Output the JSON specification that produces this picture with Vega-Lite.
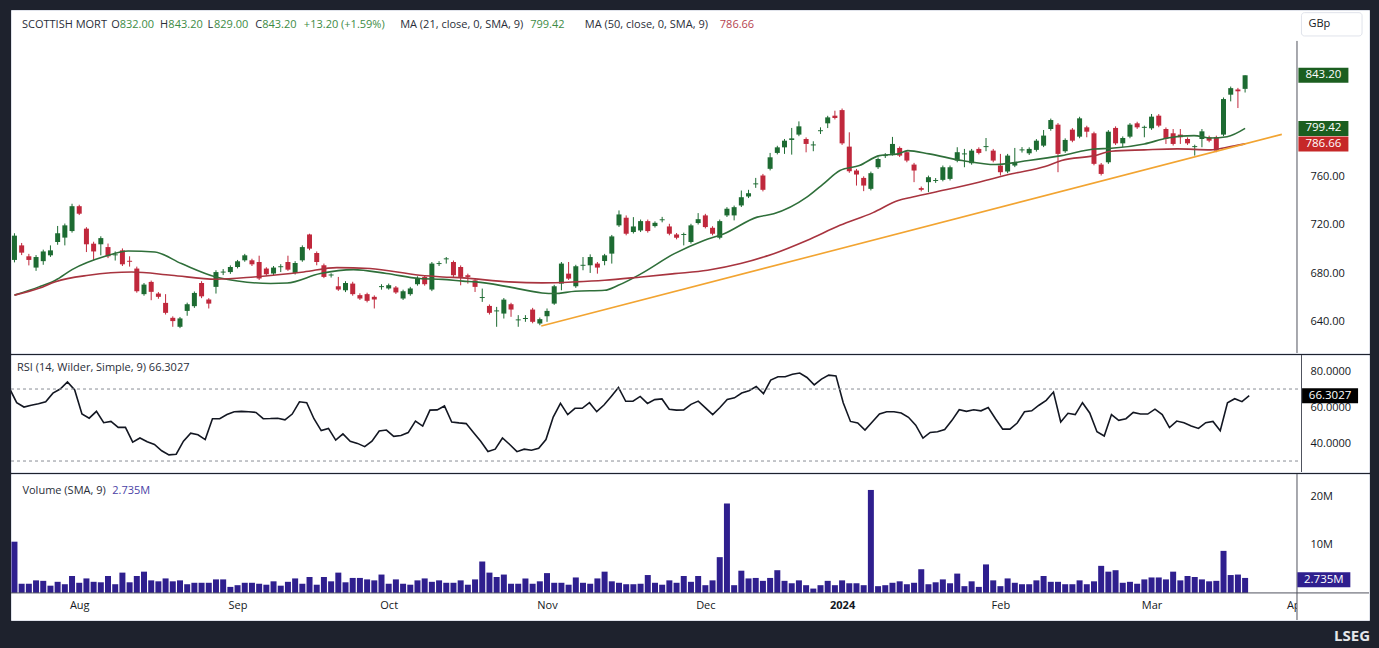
{
  "$schema": "https://vega.github.io/schema/vega-lite/v6.json",
  "background": "#1e222d",
  "padding": {"left": 10, "top": 9, "right": 11, "bottom": 6},
  "spacing": 0,
  "config": {
    "view": {"fill": "#ffffff", "stroke": "#e0e3eb", "strokeWidth": 1},
    "font": "Open Sans"
  },
  "title": {"text": "LSEG", "orient": "bottom", "anchor": "end", "color": "#e6e7ea", "fontSize": 15, "fontWeight": "bold", "font": "Open Sans", "offset": 8},
  "datasets": {
    "candles": [
      {"s":-9,"o":691,"h":713,"l":689,"c":711},{"s":-8,"o":703,"h":705,"l":695,"c":697},{"s":-7,"o":694,"h":696,"l":686.5,"c":691},{"s":-6,"o":684.7,"h":695,"l":682,"c":693.4},{"s":-5,"o":690,"h":699.5,"l":687,"c":698},{"s":-4,"o":694.8,"h":703,"l":693.5,"c":698.9},{"s":-3,"o":705.8,"h":719,"l":703.5,"c":713},{"s":-2,"o":709.4,"h":721,"l":703,"c":719.5},{"s":-1,"o":714.8,"h":737.3,"l":713.5,"c":735.3},{"s":0,"o":735.3,"h":736.5,"l":728,"c":729.1},
      {"s":1,"o":716.8,"h":718,"l":697.5,"c":703.9},{"s":2,"o":704.4,"h":706,"l":690.7,"c":698},{"s":3,"o":703.9,"h":710.5,"l":694.8,"c":709},{"s":4,"o":701.6,"h":704.5,"l":692.5,"c":694},{"s":5,"o":694.8,"h":698,"l":690.5,"c":695.6},{"s":6,"o":698.9,"h":700.5,"l":686,"c":687.4},{"s":7,"o":690.3,"h":694,"l":685.5,"c":689.5},{"s":8,"o":683.9,"h":685.5,"l":664,"c":665.2},{"s":9,"o":662.8,"h":672,"l":661.5,"c":670.7},{"s":10,"o":672.9,"h":674,"l":657.8,"c":664.7},
      {"s":11,"o":663.3,"h":664.5,"l":659,"c":660.6},{"s":12,"o":655.6,"h":662.8,"l":646,"c":647.4},{"s":13,"o":643.3,"h":644.5,"l":635.9,"c":640.6},{"s":14,"o":635.9,"h":644,"l":634.8,"c":642.8},{"s":15,"o":649,"h":655.8,"l":645,"c":654.5},{"s":16,"o":652.9,"h":665,"l":651.5,"c":663.8},{"s":17,"o":672,"h":673.5,"l":659.5,"c":661},{"s":18,"o":658.4,"h":659.5,"l":651,"c":655},{"s":19,"o":668.8,"h":682.5,"l":663.3,"c":681},{"s":20,"o":680.6,"h":683.5,"l":678.5,"c":681.4},
      {"s":21,"o":681,"h":686.5,"l":679.5,"c":685.2},{"s":22,"o":685.2,"h":691,"l":684,"c":689.9},{"s":23,"o":690.7,"h":696,"l":689.5,"c":694.8},{"s":24,"o":690.7,"h":692,"l":686,"c":687.4},{"s":25,"o":689.3,"h":694.5,"l":674.5,"c":675.7},{"s":26,"o":683.9,"h":685,"l":678,"c":679.2},{"s":27,"o":679.8,"h":686,"l":678.5,"c":684.7},{"s":28,"o":685,"h":687.5,"l":681,"c":685.8},{"s":29,"o":689.3,"h":694.5,"l":682,"c":683},{"s":30,"o":680.3,"h":690,"l":679,"c":688.5},
      {"s":31,"o":690.7,"h":703,"l":689.5,"c":701.6},{"s":32,"o":712,"h":712.6,"l":699,"c":700.3},{"s":33,"o":696.7,"h":698,"l":686.6,"c":689.3},{"s":34,"o":686.6,"h":688,"l":676,"c":677},{"s":35,"o":678.2,"h":680,"l":676.5,"c":679},{"s":36,"o":669.3,"h":677,"l":665.5,"c":666.6},{"s":37,"o":666,"h":673.5,"l":664.5,"c":672},{"s":38,"o":671.5,"h":673,"l":661.5,"c":662.8},{"s":39,"o":662,"h":663.5,"l":658,"c":659.2},{"s":40,"o":662.8,"h":664,"l":656,"c":657.3},
      {"s":41,"o":660.6,"h":661.8,"l":651,"c":658.4},{"s":42,"o":668.6,"h":671,"l":666.5,"c":669.4},{"s":43,"o":667.5,"h":671.5,"l":666.5,"c":670.2},{"s":44,"o":668.3,"h":669.5,"l":663,"c":664.2},{"s":45,"o":659.2,"h":666.5,"l":658,"c":665.2},{"s":46,"o":662.8,"h":668.8,"l":661.5,"c":667.5},{"s":47,"o":671,"h":677.5,"l":669.8,"c":676.2},{"s":48,"o":677,"h":678.3,"l":669.8,"c":671},{"s":49,"o":666.6,"h":689.3,"l":665.3,"c":688},{"s":50,"o":687.6,"h":690,"l":686,"c":688.4},
      {"s":51,"o":691.5,"h":693.4,"l":688,"c":692.3},{"s":52,"o":689.3,"h":690.5,"l":677,"c":678.4},{"s":53,"o":685.2,"h":686.5,"l":670.1,"c":677},{"s":54,"o":678.4,"h":679.7,"l":671.5,"c":677},{"s":55,"o":674.2,"h":675.5,"l":664.6,"c":668.8},{"s":56,"o":659.6,"h":667.4,"l":656.4,"c":660.4},{"s":57,"o":653.1,"h":654.3,"l":646,"c":647.4},{"s":58,"o":648.6,"h":652.3,"l":635.9,"c":649.4},{"s":59,"o":646.8,"h":659.6,"l":642.7,"c":658.3},{"s":60,"o":654.5,"h":655.7,"l":644.1,"c":650.1},
      {"s":61,"o":641.2,"h":645.5,"l":635.9,"c":642},{"s":62,"o":642.3,"h":645.5,"l":640,"c":643.1},{"s":63,"o":650.1,"h":651.5,"l":638.8,"c":640},{"s":64,"o":638.6,"h":643.5,"l":637.2,"c":642.2},{"s":65,"o":644.6,"h":651,"l":640,"c":649},{"s":66,"o":655,"h":670.5,"l":654,"c":669.3},{"s":67,"o":671.5,"h":689.3,"l":666,"c":688},{"s":68,"o":679.7,"h":689.3,"l":674.5,"c":675.6},{"s":69,"o":669.3,"h":687,"l":668,"c":685.8},{"s":70,"o":686.2,"h":693.4,"l":682.5,"c":687},
      {"s":71,"o":686.6,"h":695.6,"l":680.3,"c":693.4},{"s":72,"o":688,"h":689.3,"l":679.7,"c":684.7},{"s":73,"o":690.1,"h":696,"l":686.6,"c":694.8},{"s":74,"o":696.2,"h":711.6,"l":688,"c":710.4},{"s":75,"o":719.5,"h":731.8,"l":718.2,"c":728.5},{"s":76,"o":725.8,"h":727.7,"l":711.3,"c":712.6},{"s":77,"o":714,"h":726.3,"l":712.8,"c":718.6},{"s":78,"o":715.3,"h":724.3,"l":714,"c":723},{"s":79,"o":723,"h":724.3,"l":713.5,"c":714.8},{"s":80,"o":718.9,"h":722.8,"l":717.7,"c":721.6},
      {"s":81,"o":723.7,"h":726.5,"l":722,"c":724.5},{"s":82,"o":718.6,"h":720.8,"l":711.3,"c":712.6},{"s":83,"o":712,"h":713.2,"l":708,"c":709.3},{"s":84,"o":711.6,"h":713.5,"l":703,"c":712.4},{"s":85,"o":705.8,"h":720.8,"l":704.5,"c":719.5},{"s":86,"o":721.4,"h":729.6,"l":720.2,"c":724.6},{"s":87,"o":727.7,"h":729,"l":717,"c":718.1},{"s":88,"o":717.5,"h":718.8,"l":711.3,"c":712.6},{"s":89,"o":709.3,"h":724.3,"l":708,"c":723},{"s":90,"o":727.7,"h":734.5,"l":726.4,"c":733.2},
      {"s":91,"o":727.7,"h":735.8,"l":723.6,"c":734.5},{"s":92,"o":735.9,"h":748.2,"l":734.6,"c":742.7},{"s":93,"o":743.3,"h":748.8,"l":742,"c":746},{"s":94,"o":753.3,"h":758.6,"l":750.4,"c":754.1},{"s":95,"o":760.6,"h":761.9,"l":747.5,"c":748.8},{"s":96,"o":766.1,"h":779.2,"l":764.8,"c":775.6},{"s":97,"o":779.2,"h":785.1,"l":778,"c":783.8},{"s":98,"o":783.8,"h":790.7,"l":778.4,"c":789.3},{"s":99,"o":789.9,"h":799.8,"l":777.8,"c":791.2},{"s":100,"o":794.3,"h":805.2,"l":793,"c":801.1},
      {"s":101,"o":790.7,"h":792,"l":779.7,"c":786.6},{"s":102,"o":785.4,"h":788.8,"l":780.6,"c":786.2},{"s":103,"o":797.1,"h":800.3,"l":794.8,"c":797.9},{"s":104,"o":803.6,"h":809.8,"l":799.7,"c":808.5},{"s":105,"o":809.9,"h":814,"l":806.8,"c":808},{"s":106,"o":814.5,"h":815.8,"l":785.8,"c":787.1},{"s":107,"o":784.4,"h":796.2,"l":762.8,"c":764.1},{"s":108,"o":764.7,"h":766,"l":752.3,"c":761.4},{"s":109,"o":758.6,"h":759.9,"l":747.7,"c":752.3},{"s":110,"o":749.6,"h":763.8,"l":748.3,"c":762.5},
      {"s":111,"o":767.4,"h":775.5,"l":766,"c":774.2},{"s":112,"o":776.6,"h":779,"l":775,"c":777.4},{"s":113,"o":778.4,"h":792.4,"l":777,"c":786.6},{"s":114,"o":783.3,"h":784.5,"l":775.8,"c":777},{"s":115,"o":779.8,"h":781,"l":771.5,"c":772.9},{"s":116,"o":769.6,"h":771,"l":755.1,"c":764.7},{"s":117,"o":750.2,"h":751.5,"l":747.5,"c":748.8},{"s":118,"o":755.1,"h":760.5,"l":746.9,"c":759.2},{"s":119,"o":756.1,"h":758.5,"l":754.5,"c":756.9},{"s":120,"o":757,"h":768.8,"l":755.8,"c":767.4},
      {"s":121,"o":757.8,"h":768.8,"l":756.5,"c":767.4},{"s":122,"o":772.9,"h":783.9,"l":771.5,"c":779.8},{"s":123,"o":778,"h":782.5,"l":767.4,"c":778.8},{"s":124,"o":770.7,"h":782.5,"l":769.5,"c":781.1},{"s":125,"o":782.5,"h":783.8,"l":778,"c":779.2},{"s":126,"o":784,"h":791.5,"l":780.6,"c":784.8},{"s":127,"o":781.1,"h":782.5,"l":771.5,"c":772.9},{"s":128,"o":768.8,"h":778.4,"l":760.6,"c":763.3},{"s":129,"o":763.9,"h":778.4,"l":762.5,"c":777},{"s":130,"o":768.8,"h":783.3,"l":767.5,"c":771.5},
      {"s":131,"o":781.3,"h":784,"l":779.5,"c":782.1},{"s":132,"o":778.9,"h":783.8,"l":777.5,"c":782.5},{"s":133,"o":781.7,"h":790.6,"l":780.3,"c":789.3},{"s":134,"o":785.2,"h":798.1,"l":784,"c":793.5},{"s":135,"o":798.9,"h":807.5,"l":797.5,"c":806.3},{"s":136,"o":802.5,"h":803.8,"l":763.3,"c":778.4},{"s":137,"o":780.6,"h":791.2,"l":779.3,"c":789.9},{"s":138,"o":798.4,"h":799.7,"l":788,"c":789.3},{"s":139,"o":792.6,"h":809,"l":791.3,"c":807.7},{"s":140,"o":800.3,"h":801.6,"l":792.1,"c":796.7},
      {"s":141,"o":795.4,"h":796.7,"l":769,"c":770.2},{"s":142,"o":769.6,"h":770.9,"l":760.6,"c":761.9},{"s":143,"o":771.5,"h":798,"l":770.2,"c":796.7},{"s":144,"o":799.8,"h":801.1,"l":785.8,"c":787.1},{"s":145,"o":787.1,"h":792.8,"l":783.9,"c":791.5},{"s":146,"o":792.6,"h":803.8,"l":791.3,"c":802.5},{"s":147,"o":803.6,"h":804.9,"l":799,"c":800.3},{"s":148,"o":799.9,"h":801.7,"l":792.1,"c":800.7},{"s":149,"o":799.5,"h":811.3,"l":798.2,"c":809.1},{"s":150,"o":809.9,"h":811.2,"l":800.4,"c":801.7},
      {"s":151,"o":798.9,"h":800.2,"l":786.6,"c":790.7},{"s":152,"o":795.4,"h":798.9,"l":785.3,"c":786.6},{"s":153,"o":794.3,"h":798.9,"l":786.6,"c":792.1},{"s":154,"o":790.7,"h":792,"l":785.8,"c":787.1},{"s":155,"o":784,"h":786,"l":777,"c":784.8},{"s":156,"o":790.7,"h":798.9,"l":783.9,"c":797},{"s":157,"o":792.1,"h":793.4,"l":788,"c":789.3},{"s":158,"o":792.1,"h":793.4,"l":779.8,"c":781.1},{"s":159,"o":794.3,"h":824.9,"l":793,"c":823.6},{"s":160,"o":827.2,"h":833.9,"l":821.7,"c":832.6},
      {"s":161,"o":831.5,"h":832.8,"l":816.2,"c":830},{"s":162,"o":832,"h":843.2,"l":829,"c":843.2}
    ],
    "ma": [
      {"s":-9,"v":662,"k":"MA 21"},{"s":-5.6,"v":668.8,"k":"MA 21"},{"s":-3.3,"v":674.3,"k":"MA 21"},{"s":-1,"v":683,"k":"MA 21"},{"s":3.6,"v":694,"k":"MA 21"},{"s":6.8,"v":698.4,"k":"MA 21"},{"s":10.5,"v":697.5,"k":"MA 21"},{"s":14.2,"v":688,"k":"MA 21"},{"s":19,"v":677,"k":"MA 21"},{"s":22,"v":673.7,"k":"MA 21"},{"s":26.6,"v":671.6,"k":"MA 21"},{"s":28.9,"v":672,"k":"MA 21"},{"s":33.5,"v":679.8,"k":"MA 21"},{"s":38.1,"v":683,"k":"MA 21"},{"s":42.7,"v":679.8,"k":"MA 21"},{"s":47.3,"v":675.7,"k":"MA 21"},{"s":50.5,"v":675,"k":"MA 21"},{"s":53.3,"v":673.5,"k":"MA 21"},{"s":55.1,"v":672.9,"k":"MA 21"},{"s":59.7,"v":668.8,"k":"MA 21"},{"s":64.3,"v":663.8,"k":"MA 21"},{"s":66,"v":663.3,"k":"MA 21"},{"s":68.9,"v":665.2,"k":"MA 21"},{"s":73,"v":666,"k":"MA 21"},{"s":74.9,"v":670.1,"k":"MA 21"},{"s":78.1,"v":679.7,"k":"MA 21"},{"s":82.7,"v":696.2,"k":"MA 21"},{"s":86.8,"v":707.1,"k":"MA 21"},{"s":89.6,"v":712.6,"k":"MA 21"},{"s":94.2,"v":726.3,"k":"MA 21"},{"s":96.5,"v":729,"k":"MA 21"},{"s":101.1,"v":742.7,"k":"MA 21"},{"s":103.4,"v":753.7,"k":"MA 21"},{"s":105.7,"v":764.7,"k":"MA 21"},{"s":108.4,"v":768.8,"k":"MA 21"},{"s":111.2,"v":777,"k":"MA 21"},{"s":113.8,"v":778.4,"k":"MA 21"},{"s":115.1,"v":781.1,"k":"MA 21"},{"s":118.1,"v":778.4,"k":"MA 21"},{"s":122.7,"v":772.9,"k":"MA 21"},{"s":127.3,"v":769.6,"k":"MA 21"},{"s":131.9,"v":772.9,"k":"MA 21"},{"s":136.5,"v":777,"k":"MA 21"},{"s":141.1,"v":782.5,"k":"MA 21"},{"s":143.4,"v":783,"k":"MA 21"},{"s":148,"v":786.6,"k":"MA 21"},{"s":151.2,"v":791.5,"k":"MA 21"},{"s":154.9,"v":793.5,"k":"MA 21"},{"s":157.2,"v":791.5,"k":"MA 21"},{"s":159.5,"v":792.6,"k":"MA 21"},{"s":162,"v":799.42,"k":"MA 21"},
      {"s":-9,"v":662,"k":"MA 50"},{"s":-5.6,"v":667.6,"k":"MA 50"},{"s":-3.3,"v":673.1,"k":"MA 50"},{"s":1.3,"v":678.4,"k":"MA 50"},{"s":7.3,"v":681.1,"k":"MA 50"},{"s":12.8,"v":678.4,"k":"MA 50"},{"s":19,"v":675.1,"k":"MA 50"},{"s":24.3,"v":677,"k":"MA 50"},{"s":31.2,"v":681.1,"k":"MA 50"},{"s":35.8,"v":684.7,"k":"MA 50"},{"s":40.4,"v":683.9,"k":"MA 50"},{"s":47.3,"v":678.4,"k":"MA 50"},{"s":50.5,"v":677,"k":"MA 50"},{"s":53.3,"v":676.2,"k":"MA 50"},{"s":59.7,"v":672.9,"k":"MA 50"},{"s":64.3,"v":672.1,"k":"MA 50"},{"s":68.9,"v":672.9,"k":"MA 50"},{"s":73,"v":674.2,"k":"MA 50"},{"s":78.1,"v":677,"k":"MA 50"},{"s":82.7,"v":679.7,"k":"MA 50"},{"s":87.3,"v":682.5,"k":"MA 50"},{"s":91.9,"v":688,"k":"MA 50"},{"s":96.5,"v":696.2,"k":"MA 50"},{"s":101.1,"v":707.1,"k":"MA 50"},{"s":105.7,"v":719.5,"k":"MA 50"},{"s":110.3,"v":730,"k":"MA 50"},{"s":113.8,"v":740,"k":"MA 50"},{"s":115.8,"v":742.8,"k":"MA 50"},{"s":120.4,"v":748.8,"k":"MA 50"},{"s":125,"v":755.1,"k":"MA 50"},{"s":129.6,"v":762,"k":"MA 50"},{"s":134.2,"v":768,"k":"MA 50"},{"s":136.5,"v":772.9,"k":"MA 50"},{"s":141.1,"v":777,"k":"MA 50"},{"s":143.4,"v":780.6,"k":"MA 50"},{"s":148,"v":781.7,"k":"MA 50"},{"s":152.6,"v":782.5,"k":"MA 50"},{"s":157.2,"v":781.7,"k":"MA 50"},{"s":159.5,"v":783.9,"k":"MA 50"},{"s":162,"v":786.66,"k":"MA 50"}
    ],
    "trend": [{"s":64.2,"p":636.5},{"s":167.1,"p":794.5}],
    "rsi": [
      {"s":-9,"r":70.4},{"s":-8,"r":62.4},{"s":-7,"r":60},{"s":-6,"r":61},{"s":-5,"r":61.8},{"s":-4,"r":62.9},{"s":-3,"r":67.7},{"s":-2,"r":70},{"s":-1,"r":73.9},{"s":0,"r":69.5},{"s":1,"r":56.1},{"s":2,"r":53.8},{"s":3,"r":57.6},{"s":4,"r":51.3},{"s":5,"r":52},{"s":6,"r":48.7},{"s":7,"r":48.7},{"s":8,"r":40.5},{"s":9,"r":42.8},{"s":10,"r":40.7},
      {"s":11,"r":39.2},{"s":12,"r":35.7},{"s":13,"r":33.4},{"s":14,"r":33.8},{"s":15,"r":41},{"s":16,"r":45.5},{"s":17,"r":44.6},{"s":18,"r":41.9},{"s":19,"r":53.5},{"s":20,"r":53.5},{"s":21,"r":55.8},{"s":22,"r":57.4},{"s":23,"r":57.6},{"s":24,"r":57.4},{"s":25,"r":57},{"s":26,"r":53.5},{"s":27,"r":53.6},{"s":28,"r":53.8},{"s":29,"r":52.9},{"s":30,"r":56.1},
      {"s":31,"r":62.9},{"s":32,"r":62.4},{"s":33,"r":53.5},{"s":34,"r":46.9},{"s":35,"r":48.1},{"s":36,"r":41.6},{"s":37,"r":45.1},{"s":38,"r":41},{"s":39,"r":39.8},{"s":40,"r":38},{"s":41,"r":41},{"s":42,"r":46.7},{"s":43,"r":47.2},{"s":44,"r":43.7},{"s":45,"r":44.2},{"s":46,"r":45.8},{"s":47,"r":52.2},{"s":48,"r":49.4},{"s":49,"r":58.3},{"s":50,"r":58.4},
      {"s":51,"r":60.6},{"s":52,"r":51.7},{"s":53,"r":51.2},{"s":54,"r":50.8},{"s":55,"r":45.8},{"s":56,"r":41},{"s":57,"r":35.3},{"s":58,"r":36.6},{"s":59,"r":42.8},{"s":60,"r":39.2},{"s":61,"r":35.2},{"s":62,"r":36.6},{"s":63,"r":36},{"s":64,"r":37.1},{"s":65,"r":41.9},{"s":66,"r":54.4},{"s":67,"r":62},{"s":68,"r":55.8},{"s":69,"r":59.3},{"s":70,"r":59.3},
      {"s":71,"r":62.4},{"s":72,"r":57.4},{"s":73,"r":61.1},{"s":74,"r":65.9},{"s":75,"r":70.9},{"s":76,"r":63.2},{"s":77,"r":63.2},{"s":78,"r":65.9},{"s":79,"r":62},{"s":80,"r":64.1},{"s":81,"r":64.5},{"s":82,"r":58.8},{"s":83,"r":58.3},{"s":84,"r":58.4},{"s":85,"r":61.5},{"s":86,"r":63.3},{"s":87,"r":59.5},{"s":88,"r":55.8},{"s":89,"r":59.7},{"s":90,"r":64.2},
      {"s":91,"r":65.1},{"s":92,"r":67.8},{"s":93,"r":69.1},{"s":94,"r":71.4},{"s":95,"r":67.4},{"s":96,"r":75},{"s":97,"r":76.8},{"s":98,"r":76.8},{"s":99,"r":78.2},{"s":100,"r":78.9},{"s":101,"r":76.4},{"s":102,"r":72.3},{"s":103,"r":75.5},{"s":104,"r":77.7},{"s":105,"r":77.3},{"s":106,"r":62.4},{"s":107,"r":52},{"s":108,"r":51.1},{"s":109,"r":47.2},{"s":110,"r":51.7},
      {"s":111,"r":56.1},{"s":112,"r":57.4},{"s":113,"r":57.4},{"s":114,"r":56.7},{"s":115,"r":54.3},{"s":116,"r":49.9},{"s":117,"r":42.7},{"s":118,"r":45.9},{"s":119,"r":46.3},{"s":120,"r":47.5},{"s":121,"r":52.6},{"s":122,"r":58.5},{"s":123,"r":57.6},{"s":124,"r":58.5},{"s":125,"r":57.9},{"s":126,"r":59.7},{"s":127,"r":53.5},{"s":128,"r":47.7},{"s":129,"r":47.7},{"s":130,"r":51.1},
      {"s":131,"r":57.4},{"s":132,"r":57.9},{"s":133,"r":61},{"s":134,"r":63.7},{"s":135,"r":68.3},{"s":136,"r":51.7},{"s":137,"r":56.5},{"s":138,"r":55.8},{"s":139,"r":62.4},{"s":140,"r":56.7},{"s":141,"r":46.3},{"s":142,"r":43.9},{"s":143,"r":55.8},{"s":144,"r":52.6},{"s":145,"r":53.5},{"s":146,"r":57},{"s":147,"r":56.1},{"s":148,"r":56.1},{"s":149,"r":58.8},{"s":150,"r":55.8},
      {"s":151,"r":48.6},{"s":152,"r":52.2},{"s":153,"r":51.3},{"s":154,"r":49.5},{"s":155,"r":48.1},{"s":156,"r":51.3},{"s":157,"r":52},{"s":158,"r":46.8},{"s":159,"r":62.4},{"s":160,"r":64.6},{"s":161,"r":63},{"s":162,"r":66.3027}
    ],
    "vol": [
      {"s":-9,"v":10.6},{"s":-8,"v":1.9},{"s":-7,"v":1.9},{"s":-6,"v":2.6},{"s":-5,"v":2.5},{"s":-4,"v":1.5},{"s":-3,"v":2.3},{"s":-2,"v":1.8},{"s":-1,"v":3.5},{"s":0,"v":2.1},{"s":1,"v":3.0},{"s":2,"v":2.3},{"s":3,"v":2.2},{"s":4,"v":3.5},{"s":5,"v":1.8},{"s":6,"v":4.2},{"s":7,"v":2.2},{"s":8,"v":3.5},{"s":9,"v":4.4},{"s":10,"v":2.6},
      {"s":11,"v":2.4},{"s":12,"v":3.0},{"s":13,"v":2.4},{"s":14,"v":2.6},{"s":15,"v":1.8},{"s":16,"v":2.1},{"s":17,"v":2.1},{"s":18,"v":2.1},{"s":19,"v":2.8},{"s":20,"v":2.8},{"s":21,"v":1.25},{"s":22,"v":1.6},{"s":23,"v":2.1},{"s":24,"v":2.1},{"s":25,"v":1.9},{"s":26,"v":1.7},{"s":27,"v":2.4},{"s":28,"v":1.5},{"s":29,"v":2.3},{"s":30,"v":3.0},
      {"s":31,"v":1.9},{"s":32,"v":3.3},{"s":33,"v":1.7},{"s":34,"v":3.3},{"s":35,"v":2.4},{"s":36,"v":4.2},{"s":37,"v":2.2},{"s":38,"v":3.1},{"s":39,"v":3.1},{"s":40,"v":2.8},{"s":41,"v":2.6},{"s":42,"v":3.8},{"s":43,"v":1.9},{"s":44,"v":2.8},{"s":45,"v":1.9},{"s":46,"v":1.7},{"s":47,"v":2.6},{"s":48,"v":3.0},{"s":49,"v":2.3},{"s":50,"v":2.6},
      {"s":51,"v":2.1},{"s":52,"v":2.1},{"s":53,"v":2.6},{"s":54,"v":1.7},{"s":55,"v":2.8},{"s":56,"v":6.5},{"s":57,"v":4.2},{"s":58,"v":3.3},{"s":59,"v":3.8},{"s":60,"v":1.9},{"s":61,"v":1.9},{"s":62,"v":3.0},{"s":63,"v":1.9},{"s":64,"v":2.4},{"s":65,"v":4.1},{"s":66,"v":2.1},{"s":67,"v":2.1},{"s":68,"v":1.7},{"s":69,"v":3.2},{"s":70,"v":2.1},
      {"s":71,"v":1.9},{"s":72,"v":3.0},{"s":73,"v":4.4},{"s":74,"v":2.4},{"s":75,"v":2.1},{"s":76,"v":1.8},{"s":77,"v":1.8},{"s":78,"v":1.9},{"s":79,"v":3.7},{"s":80,"v":2.1},{"s":81,"v":1.7},{"s":82,"v":2.6},{"s":83,"v":2.1},{"s":84,"v":3.5},{"s":85,"v":2.3},{"s":86,"v":3.5},{"s":87,"v":1.6},{"s":88,"v":2.6},{"s":89,"v":7.4},{"s":90,"v":18.5},
      {"s":91,"v":1.6},{"s":92,"v":4.6},{"s":93,"v":3.0},{"s":94,"v":3.1},{"s":95,"v":2.5},{"s":96,"v":3.1},{"s":97,"v":4.7},{"s":98,"v":2.5},{"s":99,"v":2.0},{"s":100,"v":2.6},{"s":101,"v":1.6},{"s":102,"v":0.9},{"s":103,"v":1.6},{"s":104,"v":2.5},{"s":105,"v":1.6},{"s":106,"v":2.6},{"s":107,"v":2.0},{"s":108,"v":2.0},{"s":109,"v":1.6},{"s":110,"v":21.3},
      {"s":111,"v":1.4},{"s":112,"v":1.6},{"s":113,"v":2.1},{"s":114,"v":2.4},{"s":115,"v":1.8},{"s":116,"v":2.1},{"s":117,"v":4.9},{"s":118,"v":1.8},{"s":119,"v":2.2},{"s":120,"v":2.8},{"s":121,"v":2.0},{"s":122,"v":4.0},{"s":123,"v":1.4},{"s":124,"v":2.4},{"s":125,"v":1.25},{"s":126,"v":5.9},{"s":127,"v":2.6},{"s":128,"v":1.4},{"s":129,"v":3.0},{"s":130,"v":2.1},
      {"s":131,"v":1.8},{"s":132,"v":1.8},{"s":133,"v":2.6},{"s":134,"v":3.5},{"s":135,"v":2.3},{"s":136,"v":2.3},{"s":137,"v":1.8},{"s":138,"v":1.8},{"s":139,"v":2.6},{"s":140,"v":1.8},{"s":141,"v":2.4},{"s":142,"v":5.6},{"s":143,"v":4.4},{"s":144,"v":4.7},{"s":145,"v":2.1},{"s":146,"v":2.3},{"s":147,"v":1.9},{"s":148,"v":2.8},{"s":149,"v":3.2},{"s":150,"v":3.2},
      {"s":151,"v":2.8},{"s":152,"v":4.4},{"s":153,"v":2.6},{"s":154,"v":3.5},{"s":155,"v":3.3},{"s":156,"v":2.8},{"s":157,"v":2.4},{"s":158,"v":2.5},{"s":159,"v":8.7},{"s":160,"v":3.7},{"s":161,"v":3.8},{"s":162,"v":3.1}
    ]
  },
  "vconcat": [
    {
      "width": 1358,
      "height": 343,
      "layer": [
        {
          "data": {"name": "candles"},
          "mark": {"type": "rule", "clip": true, "strokeWidth": 1},
          "encoding": {
            "x": {"field": "s", "type": "quantitative", "scale": {"domain": [-8.786, 178.52], "nice": false, "zero": false}, "axis": null},
            "y": {"field": "l", "type": "quantitative", "scale": {"domain": [614.3, 897.0], "nice": false, "zero": false}, "axis": {"orient": "right", "values": [640, 680, 720, 760], "format": ".2f", "labelPadding": -59, "labelAlign": "left", "ticks": false, "domain": false, "grid": false, "title": null, "labelColor": "#131722", "labelFontSize": 11, "labelFont": "Open Sans", "minExtent": 0}},
            "y2": {"field": "h"},
            "color": {"condition": {"test": "datum.c >= datum.o", "value": "#1d6b32"}, "value": "#c0283c"}
          }
        },
        {
          "data": {"name": "candles"},
          "mark": {"type": "bar", "clip": true, "size": 5},
          "encoding": {
            "x": {"field": "s", "type": "quantitative", "axis": null},
            "y": {"field": "o", "type": "quantitative"},
            "y2": {"field": "c"},
            "color": {"condition": {"test": "datum.c >= datum.o", "value": "#1d6b32"}, "value": "#c0283c"}
          }
        },
        {
          "data": {"name": "ma"},
          "mark": {"type": "line", "clip": true, "strokeWidth": 1.6, "interpolate": "monotone"},
          "encoding": {
            "x": {"field": "s", "type": "quantitative", "axis": null},
            "y": {"field": "v", "type": "quantitative"},
            "detail": {"field": "k", "type": "nominal"},
            "color": {"condition": {"test": "datum.k == 'MA 50'", "value": "#a8343f"}, "value": "#2f6f3a"}
          }
        },
        {
          "data": {"name": "trend"},
          "mark": {"type": "line", "clip": true, "strokeWidth": 1.6, "color": "#f2a431"},
          "encoding": {
            "x": {"field": "s", "type": "quantitative", "axis": null},
            "y": {"field": "p", "type": "quantitative"}
          }
        },
        {
          "data": {"values": [{"edge": "axis"}]},
          "mark": {"type": "rule", "color": "#50535e", "strokeWidth": 1},
          "encoding": {
            "x": {"datum": 169.21, "type": "quantitative", "axis": null},
            "y": {"datum": 871.5, "type": "quantitative"},
            "y2": {"datum": 614.3}
          }
        },
        {
          "data": {"values": [{"unit": "GBp"}]},
          "mark": {"type": "rect", "fill": "#ffffff", "stroke": "#e0e3eb", "strokeWidth": 1, "cornerRadius": 3},
          "encoding": {
            "x": {"datum": 169.83, "type": "quantitative", "axis": null},
            "x2": {"datum": 178.25},
            "y": {"datum": 894.8, "type": "quantitative"},
            "y2": {"datum": 875.6}
          }
        },
        {
          "data": {"values": [{"unit": "GBp"}]},
          "mark": {"type": "text", "align": "left", "baseline": "middle", "fontSize": 11, "color": "#131722"},
          "encoding": {
            "x": {"datum": 170.8, "type": "quantitative", "axis": null},
            "y": {"datum": 885.2, "type": "quantitative"},
            "text": {"field": "unit"}
          }
        },
        {
          "data": {"values": [{"v": 843.2, "t": "843.20", "k": "last"}, {"v": 799.42, "t": "799.42", "k": "ma21"}, {"v": 786.66, "t": "786.66", "k": "ma50"}]},
          "mark": {"type": "tick", "orient": "horizontal", "size": 50, "thickness": 15, "opacity": 1},
          "encoding": {
            "x": {"datum": 172.88, "type": "quantitative", "axis": null},
            "y": {"field": "v", "type": "quantitative"},
            "color": {"condition": {"test": "datum.k == 'ma50'", "value": "#c62828"}, "value": "#1b5e20"}
          }
        },
        {
          "data": {"values": [{"v": 843.2, "t": "843.20"}, {"v": 799.42, "t": "799.42"}, {"v": 786.66, "t": "786.66"}]},
          "mark": {"type": "text", "align": "center", "baseline": "middle", "fontSize": 11.5, "color": "#ffffff"},
          "encoding": {
            "x": {"datum": 172.88, "type": "quantitative", "axis": null},
            "y": {"field": "v", "type": "quantitative"},
            "text": {"field": "t"}
          }
        },
        {"data": {"values": [{"t": "SCOTTISH MORT"}]}, "mark": {"type": "text", "align": "left", "baseline": "middle", "fontSize": 11, "color": "#2a2e39"}, "encoding": {"x": {"datum": -7.959, "type": "quantitative", "axis": null}, "y": {"datum": 884.4, "type": "quantitative"}, "text": {"field": "t"}}},
        {"data": {"values": [{"t": "O"}]}, "mark": {"type": "text", "align": "left", "baseline": "middle", "fontSize": 11, "color": "#2a2e39"}, "encoding": {"x": {"datum": 4.455, "type": "quantitative", "axis": null}, "y": {"datum": 884.4, "type": "quantitative"}, "text": {"field": "t"}}},
        {"data": {"values": [{"t": "832.00"}]}, "mark": {"type": "text", "align": "left", "baseline": "middle", "fontSize": 11, "color": "#3d8b45"}, "encoding": {"x": {"datum": 5.628, "type": "quantitative", "axis": null}, "y": {"datum": 884.4, "type": "quantitative"}, "text": {"field": "t"}}},
        {"data": {"values": [{"t": "H"}]}, "mark": {"type": "text", "align": "left", "baseline": "middle", "fontSize": 11, "color": "#2a2e39"}, "encoding": {"x": {"datum": 11.214, "type": "quantitative", "axis": null}, "y": {"datum": 884.4, "type": "quantitative"}, "text": {"field": "t"}}},
        {"data": {"values": [{"t": "843.20"}]}, "mark": {"type": "text", "align": "left", "baseline": "middle", "fontSize": 11, "color": "#3d8b45"}, "encoding": {"x": {"datum": 12.386, "type": "quantitative", "axis": null}, "y": {"datum": 884.4, "type": "quantitative"}, "text": {"field": "t"}}},
        {"data": {"values": [{"t": "L"}]}, "mark": {"type": "text", "align": "left", "baseline": "middle", "fontSize": 11, "color": "#2a2e39"}, "encoding": {"x": {"datum": 17.834, "type": "quantitative", "axis": null}, "y": {"datum": 884.4, "type": "quantitative"}, "text": {"field": "t"}}},
        {"data": {"values": [{"t": "829.00"}]}, "mark": {"type": "text", "align": "left", "baseline": "middle", "fontSize": 11, "color": "#3d8b45"}, "encoding": {"x": {"datum": 18.731, "type": "quantitative", "axis": null}, "y": {"datum": 884.4, "type": "quantitative"}, "text": {"field": "t"}}},
        {"data": {"values": [{"t": "C"}]}, "mark": {"type": "text", "align": "left", "baseline": "middle", "fontSize": 11, "color": "#2a2e39"}, "encoding": {"x": {"datum": 24.455, "type": "quantitative", "axis": null}, "y": {"datum": 884.4, "type": "quantitative"}, "text": {"field": "t"}}},
        {"data": {"values": [{"t": "843.20"}]}, "mark": {"type": "text", "align": "left", "baseline": "middle", "fontSize": 11, "color": "#3d8b45"}, "encoding": {"x": {"datum": 25.421, "type": "quantitative", "axis": null}, "y": {"datum": 884.4, "type": "quantitative"}, "text": {"field": "t"}}},
        {"data": {"values": [{"t": "+13.20 (+1.59%)"}]}, "mark": {"type": "text", "align": "left", "baseline": "middle", "fontSize": 11, "color": "#3d8b45"}, "encoding": {"x": {"datum": 31.214, "type": "quantitative", "axis": null}, "y": {"datum": 884.4, "type": "quantitative"}, "text": {"field": "t"}}},
        {"data": {"values": [{"t": "MA (21, close, 0, SMA, 9)"}]}, "mark": {"type": "text", "align": "left", "baseline": "middle", "fontSize": 11, "color": "#2a2e39"}, "encoding": {"x": {"datum": 44.593, "type": "quantitative", "axis": null}, "y": {"datum": 884.4, "type": "quantitative"}, "text": {"field": "t"}}},
        {"data": {"values": [{"t": "799.42"}]}, "mark": {"type": "text", "align": "left", "baseline": "middle", "fontSize": 11, "color": "#3d8b45"}, "encoding": {"x": {"datum": 62.662, "type": "quantitative", "axis": null}, "y": {"datum": 884.4, "type": "quantitative"}, "text": {"field": "t"}}},
        {"data": {"values": [{"t": "MA (50, close, 0, SMA, 9)"}]}, "mark": {"type": "text", "align": "left", "baseline": "middle", "fontSize": 11, "color": "#2a2e39"}, "encoding": {"x": {"datum": 70.248, "type": "quantitative", "axis": null}, "y": {"datum": 884.4, "type": "quantitative"}, "text": {"field": "t"}}},
        {"data": {"values": [{"t": "786.66"}]}, "mark": {"type": "text", "align": "left", "baseline": "middle", "fontSize": 11, "color": "#b5434f"}, "encoding": {"x": {"datum": 89.01, "type": "quantitative", "axis": null}, "y": {"datum": 884.4, "type": "quantitative"}, "text": {"field": "t"}}}
      ]
    },
    {
      "width": 1358,
      "height": 117,
      "layer": [
        {
          "data": {"name": "rsi"},
          "mark": {"type": "line", "clip": true, "strokeWidth": 1.6, "color": "#131722"},
          "encoding": {
            "x": {"field": "s", "type": "quantitative", "scale": {"domain": [-8.786, 178.52], "nice": false, "zero": false}, "axis": null},
            "y": {"field": "r", "type": "quantitative", "scale": {"domain": [23.9, 88.9], "nice": false, "zero": false}, "axis": {"orient": "right", "values": [40, 60, 80], "format": ".4f", "labelPadding": -59, "labelAlign": "left", "ticks": false, "domain": false, "grid": false, "title": null, "labelColor": "#131722", "labelFontSize": 11, "labelFont": "Open Sans", "minExtent": 0}}
          }
        },
        {
          "data": {"values": [{"band": 70}, {"band": 30}]},
          "mark": {"type": "rule", "color": "#8a8d96", "strokeWidth": 1, "strokeDash": [3, 3]},
          "encoding": {
            "x": {"datum": -8.786, "type": "quantitative", "axis": null},
            "x2": {"datum": 169.21},
            "y": {"field": "band", "type": "quantitative"}
          }
        },
        {
          "data": {"values": [{"edge": "axis"}]},
          "mark": {"type": "rule", "color": "#50535e", "strokeWidth": 1},
          "encoding": {"x": {"datum": 169.21, "type": "quantitative", "axis": null}}
        },
        {
          "data": {"values": [{"t": "RSI (14, Wilder, Simple, 9)  66.3027"}]},
          "mark": {"type": "text", "align": "left", "baseline": "middle", "fontSize": 11, "color": "#2a2e39"},
          "encoding": {"x": {"datum": -7.959, "type": "quantitative", "axis": null}, "y": {"datum": 81.67, "type": "quantitative"}, "text": {"field": "t"}}
        },
        {
          "data": {"values": [{"r": 66.3027, "t": "66.3027"}]},
          "mark": {"type": "tick", "orient": "horizontal", "size": 56, "thickness": 15, "color": "#000000", "opacity": 1},
          "encoding": {"x": {"datum": 173.15, "type": "quantitative", "axis": null}, "y": {"field": "r", "type": "quantitative"}}
        },
        {
          "data": {"values": [{"r": 66.3027, "t": "66.3027"}]},
          "mark": {"type": "text", "align": "center", "baseline": "middle", "fontSize": 11.5, "color": "#ffffff"},
          "encoding": {"x": {"datum": 173.15, "type": "quantitative", "axis": null}, "y": {"field": "r", "type": "quantitative"}, "text": {"field": "t"}}
        }
      ]
    },
    {
      "width": 1358,
      "height": 146,
      "layer": [
        {
          "data": {"name": "vol"},
          "mark": {"type": "bar", "clip": true, "size": 6, "color": "#2f1f8e"},
          "encoding": {
            "x": {"field": "s", "type": "quantitative", "scale": {"domain": [-8.786, 178.52], "nice": false, "zero": false}, "axis": {"orient": "bottom", "values": [0, 22, 43, 65, 87, 106, 128, 149, 169], "labelExpr": "datum.value == 0 ? 'Aug' : datum.value == 22 ? 'Sep' : datum.value == 43 ? 'Oct' : datum.value == 65 ? 'Nov' : datum.value == 87 ? 'Dec' : datum.value == 106 ? '2024' : datum.value == 128 ? 'Feb' : datum.value == 149 ? 'Mar' : 'Apr'", "labelPadding": -21, "labelFontWeight": {"condition": {"test": "datum.value == 106", "value": "bold"}, "value": "normal"}, "ticks": false, "domain": false, "grid": false, "title": null, "labelColor": "#131722", "labelFontSize": 11, "labelFont": "Open Sans", "labelFlush": false, "minExtent": 0}},
            "y": {"field": "v", "type": "quantitative", "scale": {"domain": [-5.6, 24.6], "nice": false, "zero": false}, "axis": {"orient": "right", "values": [10, 20], "labelExpr": "datum.value + 'M'", "labelPadding": -59, "labelAlign": "left", "ticks": false, "domain": false, "grid": false, "title": null, "labelColor": "#131722", "labelFontSize": 11, "labelFont": "Open Sans", "minExtent": 0}},
            "y2": {"datum": 0}
          }
        },
        {
          "data": {"values": [{"mask": "axis"}]},
          "mark": {"type": "rect", "fill": "#ffffff"},
          "encoding": {
            "x": {"datum": 169.21, "type": "quantitative"},
            "x2": {"datum": 178.52},
            "y": {"datum": -5.6, "type": "quantitative"},
            "y2": {"datum": 0}
          }
        },
        {
          "data": {"values": [{"base": 0}]},
          "mark": {"type": "rule", "color": "#50535e", "strokeWidth": 1},
          "encoding": {"y": {"field": "base", "type": "quantitative"}}
        },
        {
          "data": {"values": [{"edge": "axis"}]},
          "mark": {"type": "rule", "color": "#50535e", "strokeWidth": 1},
          "encoding": {"x": {"datum": 169.21, "type": "quantitative"}}
        },
        {
          "data": {"values": [{"t": "Volume (SMA, 9)"}]},
          "mark": {"type": "text", "align": "left", "baseline": "middle", "fontSize": 11, "color": "#2a2e39"},
          "encoding": {"x": {"datum": -7.89, "type": "quantitative"}, "y": {"datum": 21.03, "type": "quantitative"}, "text": {"field": "t"}}
        },
        {
          "data": {"values": [{"t": "2.735M"}]},
          "mark": {"type": "text", "align": "left", "baseline": "middle", "fontSize": 11, "color": "#4b3fa6"},
          "encoding": {"x": {"datum": 4.59, "type": "quantitative"}, "y": {"datum": 21.03, "type": "quantitative"}, "text": {"field": "t"}}
        },
        {
          "data": {"values": [{"v": 2.735, "t": "2.735M"}]},
          "mark": {"type": "tick", "orient": "horizontal", "size": 53, "thickness": 15, "color": "#2f1f8e", "opacity": 1},
          "encoding": {"x": {"datum": 172.94, "type": "quantitative"}, "y": {"field": "v", "type": "quantitative"}}
        },
        {
          "data": {"values": [{"v": 2.735, "t": "2.735M"}]},
          "mark": {"type": "text", "align": "center", "baseline": "middle", "fontSize": 11.5, "color": "#ffffff"},
          "encoding": {"x": {"datum": 172.94, "type": "quantitative"}, "y": {"field": "v", "type": "quantitative"}, "text": {"field": "t"}}
        }
      ]
    }
  ]
}
